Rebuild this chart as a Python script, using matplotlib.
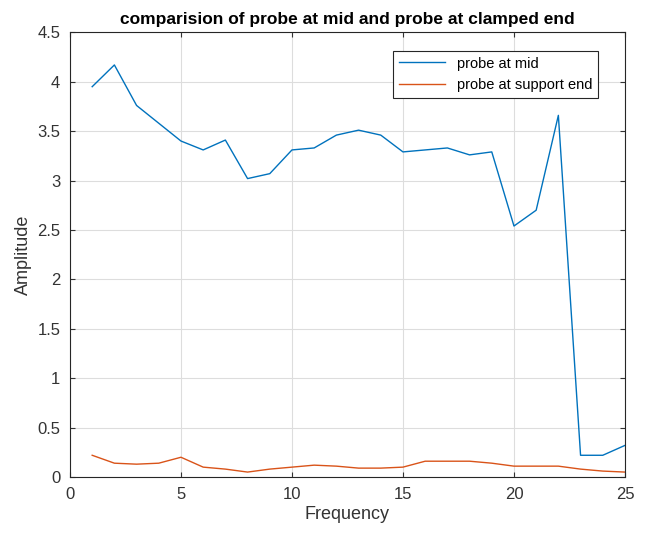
import matplotlib.pyplot as plt

plt.rcParams['font.family'] = ['Liberation Sans', 'DejaVu Sans']

freq = list(range(1, 26))
probe_mid = [3.95, 4.17, 3.76, 3.58, 3.40, 3.31, 3.41, 3.02, 3.07, 3.31,
             3.33, 3.46, 3.51, 3.46, 3.29, 3.31, 3.33, 3.26, 3.29, 2.54,
             2.70, 3.66, 0.22, 0.22, 0.32]
probe_support = [0.22, 0.14, 0.13, 0.14, 0.20, 0.10, 0.08, 0.05, 0.08, 0.10,
                 0.12, 0.11, 0.09, 0.09, 0.10, 0.16, 0.16, 0.16, 0.14, 0.11,
                 0.11, 0.11, 0.08, 0.06, 0.05]
x_ticks = [0, 5, 10, 15, 20, 25]
y_ticks = [0, 0.5, 1, 1.5, 2, 2.5, 3, 3.5, 4, 4.5]

fig = plt.figure(figsize=(6.51, 5.39), dpi=100)
ax = fig.add_axes([0.1075, 0.115, 0.8525, 0.825])
ax.plot(freq, probe_mid, color='#0072BD', linewidth=1.0, label='probe at mid')
ax.plot(freq, probe_support, color='#D95319', linewidth=1.0, label='probe at support end')

ax.set_xlim(0, 25)
ax.set_ylim(0, 4.5)
ax.set_xticks(x_ticks)
ax.set_yticks(y_ticks)
ax.set_yticklabels([f'{v:g}' for v in y_ticks])
ax.grid(True, color='#dddddd', linewidth=0.8)
ax.tick_params(direction='in', top=True, right=True, labelsize=12, colors='#333333', pad=7)
for s in ax.spines.values():
    s.set_color('#262626')
    s.set_linewidth(0.8)

ax.set_xlabel('Frequency', fontsize=13, color='#333333', labelpad=3)
ax.set_ylabel('Amplitude', fontsize=13, color='#333333', labelpad=4)
ax.set_title('comparision of probe at mid and probe at clamped end',
             fontsize=12.5, fontweight='bold')

leg = ax.legend(loc='upper right', bbox_to_anchor=(0.965, 0.975), fontsize=10.5,
                fancybox=False, framealpha=1, edgecolor='#262626', handlelength=3.2)
leg.get_frame().set_linewidth(0.8)

fig.savefig('out.png', dpi=100)
